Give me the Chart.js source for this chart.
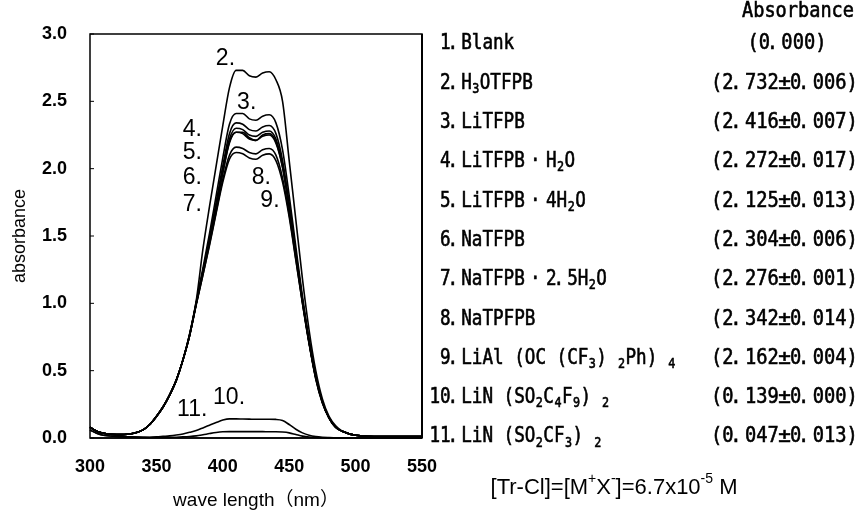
<!DOCTYPE html>
<html>
<head>
<meta charset="utf-8">
<script src="https://cdn.jsdelivr.net/npm/chart.js@4.4.1/dist/chart.umd.min.js"></script>
<style>
  html, body { margin: 0; padding: 0; background: #fff; }
  #wrap { width: 864px; height: 510px; }
</style>
</head>
<body>
<div id="wrap"><canvas id="uvChart" width="864" height="510"></canvas></div>
<script>
// wavelength grid (nm), shared by every spectrum
const wavelengths = [300, 305, 310, 320, 330, 340, 345, 350, 355, 360, 365, 370, 375, 380, 385, 390, 395, 400, 405, 410, 415, 420, 425, 430, 435, 440, 445, 450, 455, 460, 465, 470, 475, 480, 485, 490, 500, 520, 550];

// absorbance, one array per sample
const blank   = [0, 0, 0, 0, 0, 0, 0, 0, 0, 0, 0, 0, 0, 0, 0, 0, 0, 0, 0, 0, 0, 0, 0, 0, 0, 0, 0, 0, 0, 0, 0, 0, 0, 0, 0, 0, 0, 0, 0];
const h3oTfpb = [0.08, 0.05, 0.035, 0.025, 0.03, 0.06, 0.10, 0.16, 0.23, 0.32, 0.43, 0.58, 0.77, 1.02, 1.40, 1.72, 2.02, 2.32, 2.60, 2.73, 2.73, 2.69, 2.68, 2.71, 2.72, 2.66, 2.50, 2.06, 1.62, 1.18, 0.80, 0.50, 0.29, 0.16, 0.09, 0.05, 0.02, 0.01, 0.01];
const liTfpb  = [0.08, 0.05, 0.035, 0.025, 0.03, 0.06, 0.10, 0.16, 0.23, 0.32, 0.43, 0.58, 0.77, 1.01, 1.26, 1.52, 1.80, 2.08, 2.33, 2.41, 2.41, 2.37, 2.36, 2.39, 2.40, 2.34, 2.14, 1.80, 1.42, 1.05, 0.73, 0.46, 0.27, 0.15, 0.08, 0.05, 0.02, 0.01, 0.01];
const liTfpbH2o  = [0.08, 0.05, 0.035, 0.025, 0.03, 0.06, 0.10, 0.16, 0.23, 0.32, 0.43, 0.58, 0.76, 1.00, 1.23, 1.46, 1.72, 1.97, 2.19, 2.27, 2.26, 2.22, 2.21, 2.24, 2.25, 2.19, 2.01, 1.71, 1.36, 1.02, 0.71, 0.45, 0.27, 0.15, 0.08, 0.05, 0.02, 0.01, 0.01];
const liTfpb4H2o = [0.08, 0.05, 0.035, 0.025, 0.03, 0.06, 0.10, 0.16, 0.23, 0.32, 0.43, 0.58, 0.76, 0.99, 1.21, 1.43, 1.67, 1.90, 2.07, 2.12, 2.11, 2.08, 2.07, 2.10, 2.11, 2.06, 1.90, 1.64, 1.32, 1.00, 0.70, 0.44, 0.26, 0.15, 0.08, 0.05, 0.02, 0.01, 0.01];
const naTfpb  = [0.08, 0.05, 0.035, 0.025, 0.03, 0.06, 0.10, 0.16, 0.23, 0.32, 0.43, 0.58, 0.76, 1.00, 1.24, 1.47, 1.73, 1.99, 2.22, 2.30, 2.29, 2.25, 2.24, 2.27, 2.28, 2.22, 2.03, 1.72, 1.37, 1.02, 0.71, 0.45, 0.27, 0.15, 0.08, 0.05, 0.02, 0.01, 0.01];
const naTfpb25H2o = [0.08, 0.05, 0.035, 0.025, 0.03, 0.06, 0.10, 0.16, 0.23, 0.32, 0.43, 0.58, 0.76, 1.00, 1.23, 1.46, 1.72, 1.97, 2.20, 2.27, 2.27, 2.23, 2.21, 2.25, 2.26, 2.20, 2.01, 1.71, 1.36, 1.01, 0.71, 0.45, 0.27, 0.15, 0.08, 0.05, 0.02, 0.01, 0.01];
const naTpfpb = [0.08, 0.05, 0.035, 0.025, 0.03, 0.06, 0.10, 0.16, 0.23, 0.32, 0.43, 0.58, 0.77, 1.00, 1.24, 1.48, 1.75, 2.02, 2.26, 2.34, 2.33, 2.29, 2.28, 2.31, 2.32, 2.26, 2.06, 1.74, 1.38, 1.03, 0.72, 0.46, 0.27, 0.15, 0.08, 0.05, 0.02, 0.01, 0.01];
const liAlOr  = [0.08, 0.05, 0.035, 0.025, 0.03, 0.06, 0.10, 0.16, 0.23, 0.32, 0.43, 0.58, 0.76, 0.99, 1.21, 1.44, 1.68, 1.92, 2.10, 2.16, 2.15, 2.12, 2.11, 2.14, 2.15, 2.10, 1.93, 1.66, 1.33, 1.00, 0.70, 0.44, 0.26, 0.15, 0.08, 0.05, 0.02, 0.01, 0.01];
const liNonaflimide = [0.06, 0.035, 0.02, 0.012, 0.008, 0.006, 0.006, 0.008, 0.012, 0.016, 0.022, 0.03, 0.042, 0.056, 0.075, 0.095, 0.115, 0.133, 0.142, 0.142, 0.141, 0.14, 0.139, 0.139, 0.139, 0.138, 0.13, 0.10, 0.065, 0.038, 0.02, 0.01, 0.005, 0.003, 0.002, 0.001, 0, 0, 0];
const liTfsi  = [0.06, 0.035, 0.02, 0.012, 0.008, 0.005, 0.004, 0.004, 0.004, 0.005, 0.006, 0.008, 0.011, 0.016, 0.024, 0.033, 0.041, 0.046, 0.047, 0.047, 0.047, 0.047, 0.047, 0.047, 0.046, 0.046, 0.044, 0.038, 0.026, 0.014, 0.007, 0.004, 0.002, 0.001, 0, 0, 0, 0, 0];

const seriesValues = [blank, h3oTfpb, liTfpb, liTfpbH2o, liTfpb4H2o, naTfpb, naTfpb25H2o, naTpfpb, liAlOr, liNonaflimide, liTfsi];

// right-hand legend: compound names ("_x" = subscript) and peak absorbance ± error
const compoundNames = ["Blank", "H_3OTFPB", "LiTFPB", "LiTFPB·H_2O", "LiTFPB·4H_2O", "NaTFPB", "NaTFPB·2.5H_2O", "NaTPFPB", "LiAl(OC(CF_3)_2Ph)_4", "LiN(SO_2C_4F_9)_2", "LiN(SO_2CF_3)_2"];
const peakAbs = [0.000, 2.732, 2.416, 2.272, 2.125, 2.304, 2.276, 2.342, 2.162, 0.139, 0.047];
const peakErr = [null, 0.006, 0.007, 0.017, 0.013, 0.006, 0.001, 0.014, 0.004, 0.000, 0.013];

// curve number labels inside the plot, [text, wavelength, absorbance]
const curveLabels = [
  ["2.", 402, 2.82], ["3.", 418, 2.49], ["4.", 377, 2.29], ["5.", 377, 2.12],
  ["6.", 377, 1.93], ["7.", 377, 1.73], ["8.", 429, 1.93], ["9.", 435.5, 1.76],
  ["11.", 377, 0.21], ["10.", 404.7, 0.30]
];

const xTicks = [300, 350, 400, 450, 500, 550];
const yTicks = [0, 0.5, 1.0, 1.5, 2.0, 2.5, 3.0];

const GOTHIC = '"DejaVu Sans Mono", "Liberation Mono", monospace';
const SANS = '"Liberation Sans", Arial, "Noto Sans CJK JP", sans-serif';

// split "H_3O" style text into normal / sub / sup runs
function parseRich(str) {
  const parts = [];
  let i = 0;
  while (i < str.length) {
    const c = str[i];
    if (c === "_" || c === "^") {
      let t;
      if (str[i + 1] === "{") {
        const j = str.indexOf("}", i);
        t = str.slice(i + 2, j);
        i = j + 1;
      } else {
        t = str[i + 1];
        i += 2;
      }
      parts.push({ t: t, mode: c === "_" ? "sub" : "sup" });
    } else {
      let j = i;
      while (j < str.length && str[j] !== "_" && str[j] !== "^") j++;
      parts.push({ t: str.slice(i, j), mode: "" });
      i = j;
    }
  }
  return parts;
}

// width in cells of one character of the gothic font
function cellSpan(ch, wideParens) {
  if (ch === "·") return 2;
  if (wideParens && (ch === "(" || ch === ")")) return 2;
  return 1;
}

// draw text on a fixed character grid (like the gothic font of the original)
function drawCells(ctx, str, x, y, cell, size, wideParens) {
  const sx = Math.min(1, cell / (0.602 * size));
  let cx = x;
  parseRich(str).forEach((p) => {
    const small = p.mode !== "";
    const fs = small ? Math.round(size * 0.66) : size;
    const dy = p.mode === "sub" ? size * 0.28 : p.mode === "sup" ? -size * 0.35 : 0;
    ctx.font = fs + "px " + GOTHIC;
    for (const ch of p.t) {
      const span = small ? 0.75 : cellSpan(ch, wideParens);
      const box = span * cell;
      const gsx = ch === "±" ? 1 : sx;
      const w = ctx.measureText(ch).width * gsx;
      let gx = cx + (box - w) / 2;
      if (ch === ".") gx = cx - w * 0.3;
      if (span === 2 && ch === "(") gx = cx + box - w;
      if (span === 2 && ch === ")") gx = cx;
      ctx.save();
      ctx.translate(gx, y + dy);
      ctx.scale(gsx, 1);
      ctx.fillText(ch, 0, 0);
      ctx.strokeText(ch, 0, 0);
      ctx.restore();
      cx += box;
    }
  });
  return cx - x;
}

function cellsWidth(str, cell, wideParens) {
  let w = 0;
  parseRich(str).forEach((p) => {
    for (const ch of p.t) w += (p.mode ? 0.75 : cellSpan(ch, wideParens)) * cell;
  });
  return w;
}

// proportional text with sub/superscripts
function drawRich(ctx, str, x, y, size, family, align) {
  const parts = parseRich(str);
  const fontOf = (p) => (p.mode ? Math.round(size * 0.65) : size) + "px " + family;
  let total = 0;
  parts.forEach((p) => {
    ctx.font = fontOf(p);
    p.w = ctx.measureText(p.t).width;
    total += p.w;
  });
  let cx = align === "center" ? x - total / 2 : x;
  parts.forEach((p) => {
    ctx.font = fontOf(p);
    const dy = p.mode === "sub" ? size * 0.3 : p.mode === "sup" ? -size * 0.38 : 0;
    ctx.fillText(p.t, cx, y + dy);
    cx += p.w;
  });
}

const annotationsPlugin = {
  id: "annotations",
  afterDatasetsDraw(chart) {
    const ctx = chart.ctx;
    const area = chart.chartArea;
    const xs = chart.scales.x;
    const ys = chart.scales.y;

    ctx.save();
    ctx.fillStyle = "#000";
    ctx.strokeStyle = "#000";

    // plot frame
    ctx.lineWidth = 1.5;
    ctx.strokeRect(area.left, area.top, area.right - area.left, area.bottom - area.top);
    ctx.lineWidth = 2;
    ctx.beginPath();
    ctx.moveTo(area.right, area.top);
    ctx.lineTo(area.right, area.bottom);
    ctx.stroke();

    // small inner tick marks on the y axis
    ctx.lineWidth = 1;
    yTicks.forEach((v) => {
      const py = ys.getPixelForValue(v);
      ctx.beginPath();
      ctx.moveTo(area.left, py);
      ctx.lineTo(area.left + 4, py);
      ctx.stroke();
    });

    // curve numbers
    ctx.textBaseline = "middle";
    ctx.textAlign = "center";
    ctx.font = "23px " + SANS;
    curveLabels.forEach(([t, wl, a]) => {
      ctx.fillText(t, xs.getPixelForValue(wl), ys.getPixelForValue(a));
    });

    // legend table on the right
    ctx.textAlign = "left";
    ctx.lineWidth = 0.6;
    const rowTop = 44;
    const rowStep = 39.3;
    const cell = 10.6;
    const valueCell = 11.3;
    const size = 21;
    const numLeft = 440;
    const valueLeft = 711;

    const head = "Absorbance";
    drawCells(ctx, head, 798 - cellsWidth(head, 11.2) / 2, 12, 11.2, size);

    compoundNames.forEach((name, i) => {
      const y = rowTop + i * rowStep;
      const num = (i + 1) + ".";
      const x0 = numLeft - (num.length - 2) * cell;
      drawCells(ctx, num + name, x0, y, cell, size, true);

      let val;
      if (peakErr[i] === null) {
        val = "(" + peakAbs[i].toFixed(3) + ")";
        drawCells(ctx, val, 787 - cellsWidth(val, valueCell) / 2, y, valueCell, size, false);
      } else {
        val = "(" + peakAbs[i].toFixed(3) + "±" + peakErr[i].toFixed(3) + ")";
        drawCells(ctx, val, valueLeft, y, valueCell, size, false);
      }
    });

    // concentration note
    drawRich(ctx, "[Tr-Cl]=[M^+X^-]=6.7x10^{-5} M", 614, 488, 22, SANS, "center");

    ctx.restore();
  }
};

const datasets = seriesValues.map((vals, k) => ({
  label: (k + 1) + ". " + compoundNames[k].replace(/_/g, ""),
  data: wavelengths.map((w, i) => ({ x: w, y: vals[i] })),
  borderColor: "#000",
  backgroundColor: "#000",
  borderWidth: 1.6,
  pointRadius: 0,
  cubicInterpolationMode: "monotone",
  fill: false,
  clip: false
}));

new Chart(document.getElementById("uvChart"), {
  type: "line",
  data: { datasets: datasets },
  options: {
    responsive: false,
    animation: false,
    devicePixelRatio: 1,
    layout: { padding: { left: 0, top: 34, right: 442, bottom: 0 } },
    plugins: {
      legend: { display: false },
      tooltip: { enabled: false }
    },
    scales: {
      x: {
        type: "linear",
        min: 300,
        max: 550,
        afterFit(scale) { scale.height = 72; },
        afterBuildTicks(scale) { scale.ticks = xTicks.map((v) => ({ value: v })); },
        grid: { display: false, drawTicks: false },
        border: { display: false },
        ticks: {
          color: "#000",
          padding: 18,
          maxRotation: 0,
          font: { family: SANS, size: 18, weight: "bold" }
        },
        title: {
          display: true,
          text: "wave length（nm）",
          color: "#000",
          padding: { top: 0, bottom: -2 },
          font: { family: SANS, size: 19 }
        }
      },
      y: {
        type: "linear",
        min: 0,
        max: 3,
        afterFit(scale) { scale.width = 90; },
        afterBuildTicks(scale) { scale.ticks = yTicks.map((v) => ({ value: v })); },
        grid: { display: false, drawTicks: false },
        border: { display: false },
        ticks: {
          color: "#000",
          padding: 23,
          callback: (v) => Number(v).toFixed(1),
          font: { family: SANS, size: 18, weight: "bold" }
        },
        title: {
          display: true,
          text: "absorbance",
          color: "#000",
          padding: { top: 9, bottom: 0 },
          font: { family: SANS, size: 18 }
        }
      }
    }
  },
  plugins: [annotationsPlugin]
});
</script>
</body>
</html>
